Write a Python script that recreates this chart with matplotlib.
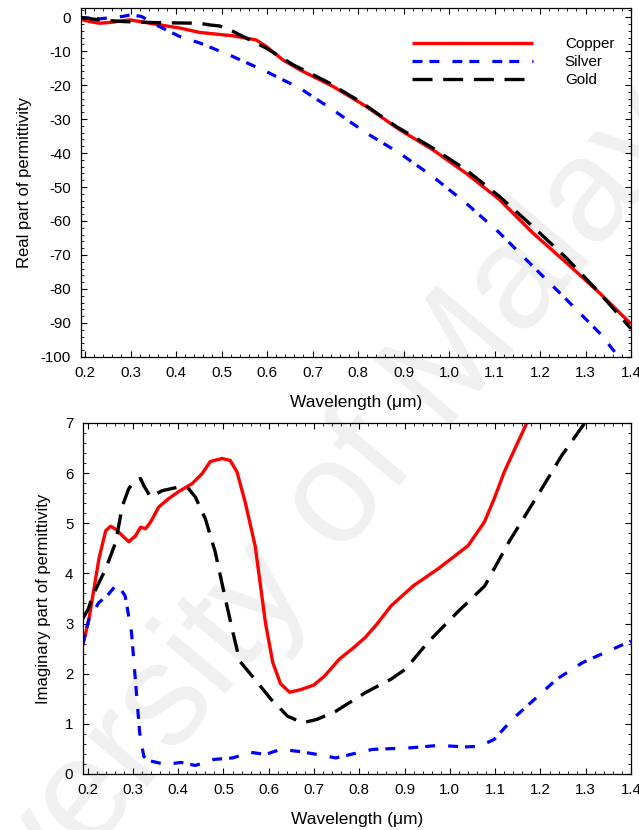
import matplotlib
matplotlib.use("Agg")
import matplotlib.pyplot as plt
from matplotlib.ticker import MultipleLocator

plt.rcParams['font.family'] = ['Liberation Sans', 'DejaVu Sans']
plt.rcParams['font.size'] = 10.5
plt.rcParams['axes.unicode_minus'] = False

# real part of permittivity (top panel)
cu_re_x = [0.189, 0.21, 0.232, 0.26, 0.298, 0.33, 0.36, 0.408, 0.452, 0.525, 0.576, 0.598,
           0.635, 0.672, 0.745, 0.818, 0.891, 0.964, 1.037, 1.111, 1.184, 1.258, 1.331, 1.4]
cu_re_y = [-0.6, -1.3, -1.8, -1.5, -0.8, -1.5, -2.2, -3.2, -4.5, -5.5, -6.7, -8.6,
           -12.6, -15.5, -20.4, -26.3, -33.1, -39.0, -45.9, -53.7, -63.5, -72.3, -81.2, -90.3]

ag_re_x = [0.189, 0.232, 0.283, 0.301, 0.324, 0.356, 0.408, 0.452, 0.525, 0.598, 0.672, 0.745,
           0.818, 0.891, 0.964, 1.037, 1.111, 1.184, 1.258, 1.331, 1.375, 1.39]
ag_re_y = [-0.1, -0.5, 0.2, 0.7, 0.2, -2.3, -5.7, -7.6, -11.6, -16.0, -20.9, -27.3,
           -34.1, -40.0, -46.9, -54.7, -63.5, -73.3, -83.1, -93.0, -100.3, -103]

au_re_x = [0.189, 0.232, 0.283, 0.35, 0.452, 0.474, 0.496, 0.525, 0.562, 0.598, 0.657, 0.73,
           0.804, 0.884, 0.964, 1.037, 1.111, 1.184, 1.258, 1.331, 1.4]
au_re_y = [-0.1, -0.8, -1.3, -1.6, -1.8, -2.3, -2.6, -4.2, -6.7, -9.1, -14.0, -18.9,
           -24.8, -32.2, -38.5, -44.9, -52.8, -61.6, -70.9, -81.2, -91.7]

# imaginary part of permittivity (bottom panel)
cu_im_x = [0.189, 0.203, 0.214, 0.225, 0.24, 0.251, 0.262, 0.277, 0.291, 0.306, 0.317, 0.328,
           0.339, 0.357, 0.379, 0.401, 0.431, 0.453, 0.471, 0.497, 0.515, 0.53, 0.548, 0.57,
           0.593, 0.609, 0.626, 0.646, 0.67, 0.699, 0.723, 0.756, 0.785, 0.813, 0.84, 0.87,
           0.919, 0.974, 1.04, 1.076, 1.098, 1.12, 1.15, 1.17, 1.19]
cu_im_y = [2.55, 3.09, 3.69, 4.29, 4.85, 4.94, 4.88, 4.75, 4.63, 4.75, 4.92, 4.89,
           5.02, 5.32, 5.49, 5.63, 5.79, 5.99, 6.23, 6.29, 6.25, 6.02, 5.42, 4.55,
           3.0, 2.22, 1.8, 1.63, 1.68, 1.77, 1.95, 2.29, 2.5, 2.72, 3.0, 3.35,
           3.75, 4.09, 4.55, 5.02, 5.49, 6.02, 6.61, 7.0, 7.4]

ag_im_x = [0.189, 0.203, 0.225, 0.243, 0.265, 0.283, 0.297, 0.306, 0.315, 0.324, 0.333,
           0.373, 0.406, 0.438, 0.479, 0.52, 0.561, 0.593, 0.626, 0.666, 0.707, 0.748, 0.781,
           0.829, 0.911, 0.976, 1.033, 1.065, 1.098, 1.138, 1.187, 1.236, 1.293, 1.342, 1.4]
ag_im_y = [2.59, 3.09, 3.42, 3.55, 3.79, 3.55, 2.82, 1.82, 0.82, 0.35, 0.27,
           0.19, 0.23, 0.17, 0.29, 0.32, 0.43, 0.39, 0.49, 0.45, 0.39, 0.32, 0.39,
           0.49, 0.52, 0.57, 0.54, 0.55, 0.69, 1.09, 1.49, 1.89, 2.22, 2.42, 2.65]

au_im_x = [0.189, 0.202, 0.211, 0.24, 0.262, 0.277, 0.291, 0.302, 0.317, 0.324, 0.339, 0.365,
           0.401, 0.423, 0.438, 0.46, 0.482, 0.504, 0.521, 0.536, 0.569, 0.605, 0.642, 0.675,
           0.707, 0.748, 0.813, 0.87, 0.902, 0.951, 1.016, 1.077, 1.13, 1.203, 1.247, 1.298,
           1.32]
au_im_y = [3.09, 3.3, 3.55, 4.09, 4.62, 5.35, 5.69, 5.82, 5.89, 5.75, 5.52, 5.65,
           5.72, 5.69, 5.52, 5.09, 4.42, 3.5, 2.82, 2.25, 1.89, 1.49, 1.15, 1.02,
           1.09, 1.25, 1.62, 1.89, 2.09, 2.62, 3.22, 3.75, 4.62, 5.69, 6.35, 7.0,
           7.35]

labels = ['Copper', 'Silver', 'Gold']

fig = plt.figure(figsize=(6.39, 8.30), dpi=100)

# faint watermark behind everything
fig.text(0.462, 0.335, 'University of Malaya', fontsize=105, color='#f0f0f0',
         rotation=50, ha='center', va='center', zorder=-10)

ax1 = fig.add_axes([0.126, 0.570, 0.8615, 0.420])
ax2 = fig.add_axes([0.130, 0.0675, 0.8575, 0.423])

red = dict(color='#ff0000', lw=2.4, solid_capstyle='butt')
blue = dict(color='#0000ff', lw=2.3, linestyle=(0, (3.1, 2.2, 3.1, 4.1)))
black = dict(color='black', lw=2.4, linestyle=(0, (6.0, 3.2)))

ax1.plot(cu_re_x, cu_re_y, label=labels[0], **red)
ax1.plot(ag_re_x, ag_re_y, label=labels[1], **blue)
ax1.plot(au_re_x, au_re_y, label=labels[2], **black)

ax2.plot(cu_im_x, cu_im_y, **red)
ax2.plot(ag_im_x, ag_im_y, **blue)
ax2.plot(au_im_x, au_im_y, **black)

ax1.set_xlim(0.19, 1.4)
ax1.set_ylim(-100, 2.6)
ax1.yaxis.set_major_locator(MultipleLocator(10))
ax1.yaxis.set_minor_locator(MultipleLocator(2))
ax1.set_ylabel('Real part of permittivity', fontsize=12, labelpad=6)

ax2.set_xlim(0.19, 1.4)
ax2.set_ylim(0, 7)
ax2.yaxis.set_major_locator(MultipleLocator(1))
ax2.yaxis.set_minor_locator(MultipleLocator(0.2))
ax2.set_ylabel('Imaginary part of permittivity', fontsize=12, labelpad=10)

for ax in (ax1, ax2):
    ax.set_facecolor('none')
    ax.xaxis.set_minor_locator(MultipleLocator(0.02))
    ax.set_xticks([0.2, 0.3, 0.4, 0.5, 0.6, 0.7, 0.8, 0.9, 1.0, 1.1, 1.2, 1.3, 1.4])
    ax.set_xticklabels(['0.2', '0.3', '0.4', '0.5', '0.6', '0.7', '0.8', '0.9', '1.0',
                        '1.1', '1.2', '1.3', '1.4'])
    ax.tick_params(which='both', direction='in', top=True, right=True, labelsize=10.8)
    ax.tick_params(axis='x', which='major', pad=6.6)
    ax.tick_params(axis='y', which='major', pad=7)
    ax.tick_params(which='major', length=4.2, width=0.8)
    ax.tick_params(which='minor', length=2.2, width=0.6)
    ax.set_xlabel('Wavelength (\u03bcm)', fontsize=12.5, labelpad=11)
    for s in ax.spines.values():
        s.set_linewidth(0.9)

ax1.legend(loc='upper left', bbox_to_anchor=(0.602, 0.918), frameon=False,
           borderpad=0, borderaxespad=0, handlelength=8.0, handletextpad=2.1,
           labelspacing=0.28, fontsize=10.9)

fig.savefig('out.png', dpi=100)
